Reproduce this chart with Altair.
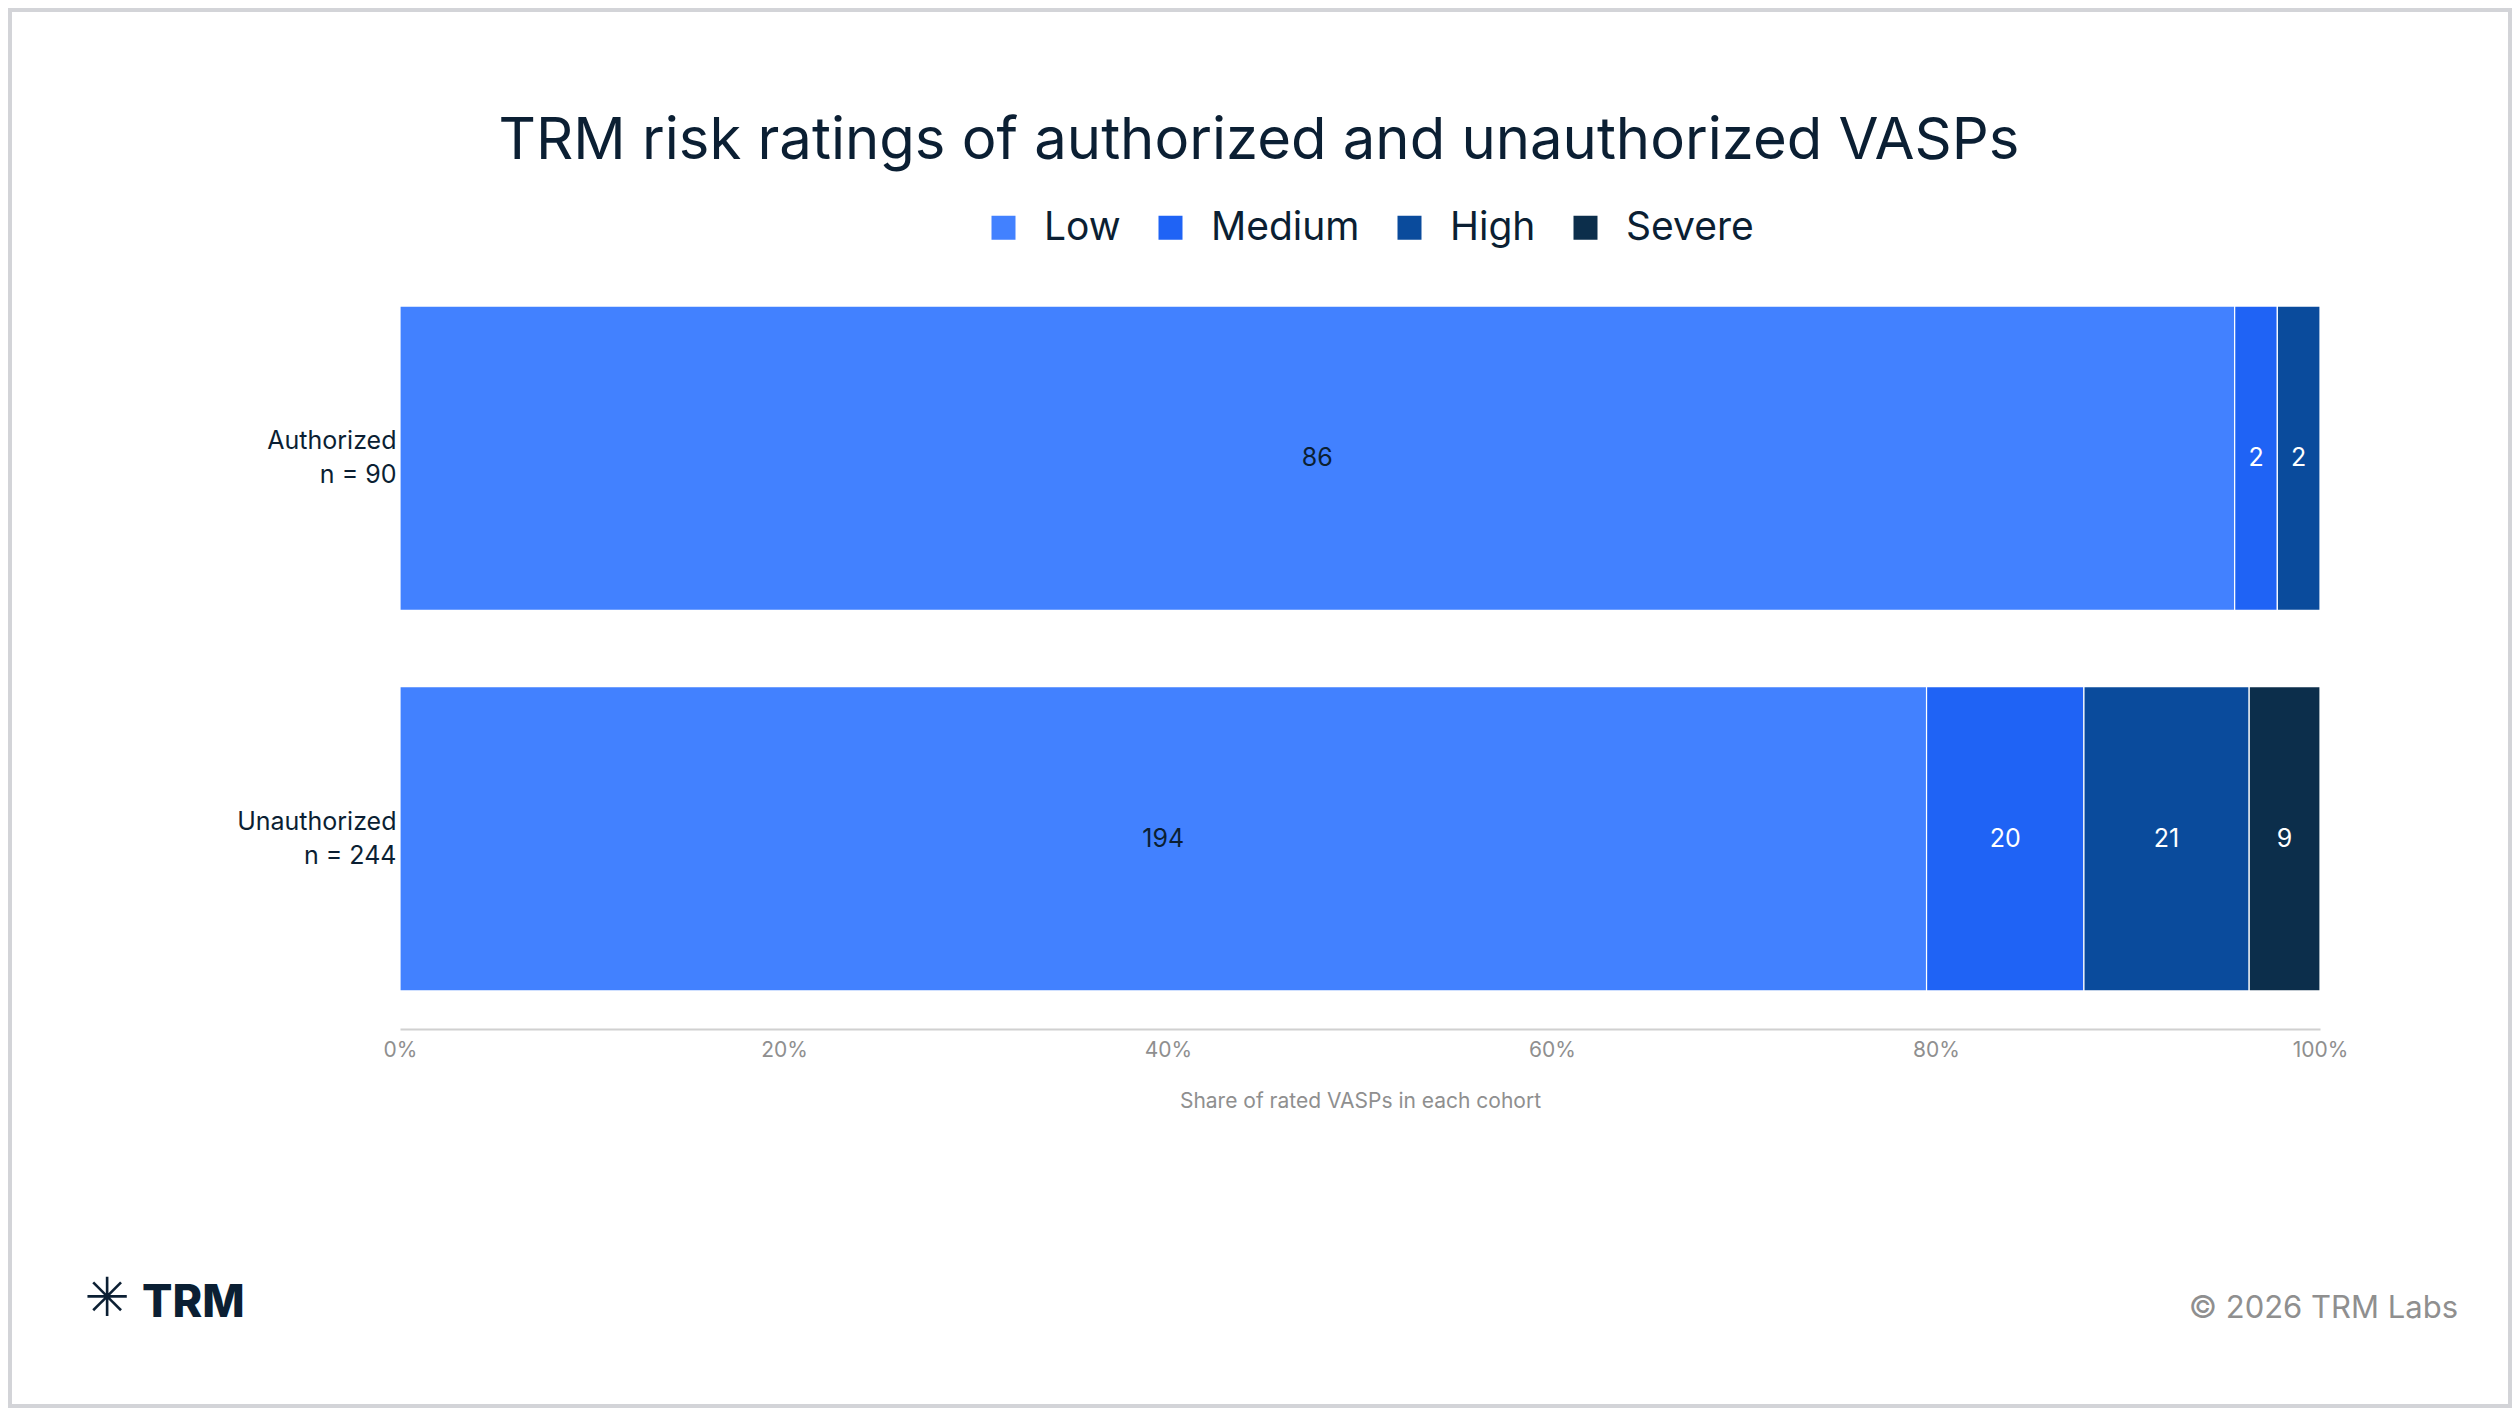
import altair as alt
import pandas as pd

# cohorts and their risk rating counts
cohorts = ["Authorized", "Unauthorized"]
cohort_n = [90, 244]
ratings = ["Low", "Medium", "High", "Severe"]
authorized_counts = [86, 2, 2, 0]
unauthorized_counts = [194, 20, 21, 9]
rating_colors = ["#4281FF", "#1F63F5", "#0A4B9C", "#0C2E4B"]

TITLE = "TRM risk ratings of authorized and unauthorized VASPs"
X_TITLE = "Share of rated VASPs in each cohort"
COPYRIGHT = "\u00a9 2026 TRM Labs"

FONT = "Inter"
NAVY = "#0B1F33"
GREY = "#8F8F8F"

W, H = 1920, 761
PAD = {"left": 392, "top": 260, "right": 192, "bottom": 379}


def build_frame() -> pd.DataFrame:
    rows = []
    for cohort, n, counts in zip(cohorts, cohort_n, [authorized_counts, unauthorized_counts]):
        for order, (rating, count) in enumerate(zip(ratings, counts)):
            rows.append(
                {
                    "cohort": f"{cohort}\nn = {n}",
                    "rating": rating,
                    "order": order,
                    "count": count,
                }
            )
    return pd.DataFrame(rows)


def text_layer(text: str, **props) -> alt.Chart:
    return (
        alt.Chart(pd.DataFrame({"t": [text]}))
        .mark_text(**props)
        .encode(text="t:N")
    )


def build_chart(frame: pd.DataFrame) -> alt.LayerChart:
    y = alt.Y(
        "cohort:N",
        sort=[f"{c}\nn = {n}" for c, n in zip(cohorts, cohort_n)],
        scale=alt.Scale(paddingInner=0.2, paddingOuter=0.1),
        axis=alt.Axis(
            title=None,
            domain=False,
            ticks=False,
            labelExpr="split(datum.label, '\\n')",
            labelFont=FONT,
            labelFontSize=25,
            labelColor=NAVY,
            labelLineHeight=34,
            labelPadding=4,
            labelOffset=-17,
        ),
    )
    base = (
        alt.Chart(frame)
        .transform_joinaggregate(total="sum(count)", groupby=["cohort"])
        .transform_window(
            cum="sum(count)",
            groupby=["cohort"],
            sort=[alt.SortField("order")],
            frame=[None, 0],
        )
        .transform_calculate(
            start="(datum.cum - datum.count) / datum.total",
            end="datum.cum / datum.total",
        )
        .transform_calculate(mid="(datum.start + datum.end) / 2")
        .transform_filter("datum.count > 0")
    )
    bars = base.mark_bar(stroke="white", strokeWidth=1.2).encode(
        x=alt.X(
            "start:Q",
            scale=alt.Scale(domain=[0, 1], nice=False),
            axis=alt.Axis(
                title=X_TITLE,
                format=".0%",
                values=[0, 0.2, 0.4, 0.6, 0.8, 1.0],
                grid=False,
                ticks=False,
                labelFlush=False,
                domainColor="#D0D0D0",
                domainWidth=2,
                labelFont=FONT,
                labelFontSize=21,
                labelColor=GREY,
                labelPadding=10,
                titleFont=FONT,
                titleFontSize=21,
                titleFontWeight="normal",
                titleColor=GREY,
                titlePadding=30,
            ),
        ),
        x2="end:Q",
        y=y,
        color=alt.Color(
            "rating:N",
            scale=alt.Scale(domain=ratings, range=rating_colors),
            legend=alt.Legend(
                title=None,
                orient="none",
                direction="horizontal",
                legendX=584,
                legendY=-60,
                symbolType="square",
                symbolSize=576,
                symbolStrokeWidth=0,
                symbolOpacity=1,
                labelFont=FONT,
                labelFontSize=39,
                labelColor=NAVY,
                labelOffset=21,
                columnPadding=30,
            ),
        ),
        tooltip=["rating:N", "count:Q"],
    )
    labels = base.mark_text(font=FONT, fontSize=25).encode(
        x="mid:Q",
        y=y,
        text="count:Q",
        color=alt.condition("datum.rating == 'Low'", alt.value(NAVY), alt.value("white")),
    )

    frame_rect = (
        alt.Chart(pd.DataFrame({"k": [0]}))
        .mark_rect(fill=None, stroke="#D3D4D8", strokeWidth=4)
        .encode(
            x=alt.value(-PAD["left"] + 2),
            x2=alt.value(W + PAD["right"] - 2),
            y=alt.value(-PAD["top"] + 2),
            y2=alt.value(H + PAD["bottom"] - 2),
        )
    )
    title = text_layer(
        TITLE, font=FONT, fontSize=58, color=NAVY, align="center", baseline="middle"
    ).encode(x=alt.value(859), y=alt.value(-126))
    logo_icon = text_layer(
        "\u2733", font="DejaVu Sans", fontSize=54, fontWeight="bold", color=NAVY,
        align="center", baseline="middle",
    ).encode(x=alt.value(-293), y=alt.value(1032))
    logo_text = text_layer(
        "TRM", font=FONT, fontSize=45, fontWeight=800, color=NAVY, align="left", baseline="alphabetic"
    ).encode(x=alt.value(-258), y=alt.value(1049))
    copyright_text = text_layer(
        COPYRIGHT, font=FONT, fontSize=31, color=GREY, align="right", baseline="alphabetic"
    ).encode(x=alt.value(2058), y=alt.value(1050))

    return (
        alt.layer(frame_rect, bars, labels, title, logo_icon, logo_text, copyright_text)
        .properties(
            width=W,
            height=H,
            padding=PAD,
            autosize=alt.AutoSizeParams(type="none"),
            background="white",
        )
        .configure_view(stroke=None)
    )


chart = build_chart(build_frame())
chart.save("out.html", embed_options={"renderer": "svg", "actions": False})
